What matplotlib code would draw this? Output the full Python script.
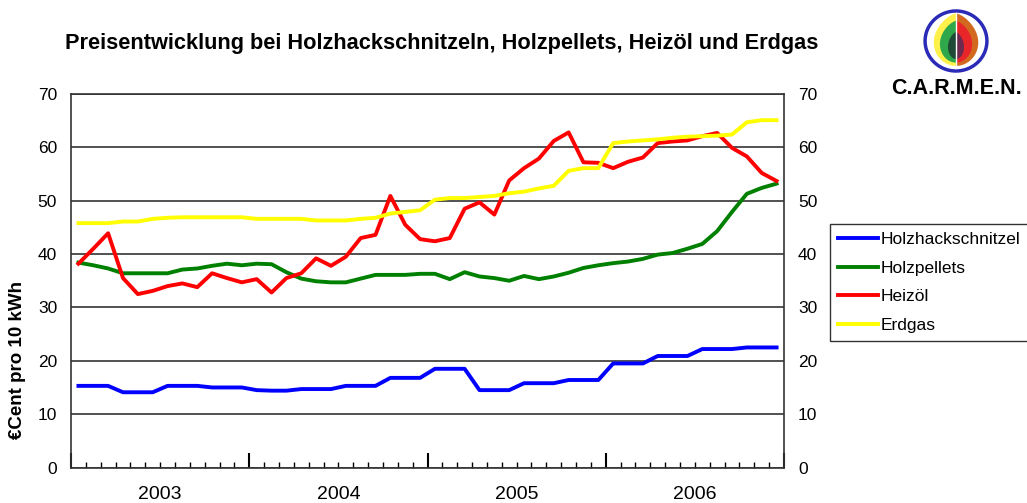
import numpy as np
import matplotlib
matplotlib.use('Agg')
from matplotlib import pyplot as plt

plt.rcParams['font.family'] = ['Liberation Sans', 'DejaVu Sans']

# monthly values Jan 2003 .. Dec 2006, €Cent pro 10 kWh
years = ['2003', '2004', '2005', '2006']
hackschnitzel = [15.3, 15.3, 15.3, 14.1, 14.1, 14.1, 15.3, 15.3, 15.3, 15.0, 15.0, 15.0,
                 14.5, 14.4, 14.4, 14.7, 14.7, 14.7, 15.3, 15.3, 15.3, 16.8, 16.8, 16.8,
                 18.5, 18.5, 18.5, 14.5, 14.5, 14.5, 15.8, 15.8, 15.8, 16.4, 16.4, 16.4,
                 19.5, 19.5, 19.5, 20.9, 20.9, 20.9, 22.2, 22.2, 22.2, 22.5, 22.5, 22.5]
pellets = [38.4, 37.9, 37.3, 36.4, 36.4, 36.4, 36.4, 37.1, 37.3, 37.8, 38.2, 37.9,
           38.2, 38.1, 36.6, 35.4, 34.9, 34.7, 34.7, 35.4, 36.1, 36.1, 36.1, 36.3,
           36.3, 35.3, 36.6, 35.8, 35.5, 35.0, 35.9, 35.3, 35.8, 36.5, 37.4, 37.9,
           38.3, 38.6, 39.1, 39.9, 40.2, 41.0, 41.9, 44.3, 47.9, 51.3, 52.4, 53.2]
heizoel = [38.2, 41.0, 43.9, 35.5, 32.5, 33.1, 34.0, 34.5, 33.8, 36.4, 35.5, 34.7,
           35.3, 32.8, 35.5, 36.4, 39.2, 37.8, 39.5, 43.0, 43.6, 50.9, 45.5, 42.8,
           42.4, 43.0, 48.5, 49.7, 47.4, 53.8, 56.1, 57.9, 61.2, 62.8, 57.2, 57.1,
           56.1, 57.3, 58.1, 60.8, 61.1, 61.3, 62.1, 62.7, 59.9, 58.3, 55.2, 53.7]
erdgas = [45.8, 45.8, 45.8, 46.1, 46.1, 46.6, 46.8, 46.9, 46.9, 46.9, 46.9, 46.9,
          46.6, 46.6, 46.6, 46.6, 46.3, 46.3, 46.3, 46.6, 46.8, 47.6, 47.9, 48.2,
          50.2, 50.5, 50.5, 50.7, 50.9, 51.4, 51.7, 52.3, 52.8, 55.6, 56.1, 56.1,
          60.8, 61.1, 61.3, 61.5, 61.8, 62.0, 62.1, 62.2, 62.4, 64.7, 65.1, 65.1]

months = np.arange(len(erdgas)) + 0.5

fig = plt.figure(figsize=(10.27, 5.03), dpi=100)
ax = fig.add_axes([71 / 1027, 1 - 467.5 / 503, 713 / 1027, 373.5 / 503])

ax.plot(months, hackschnitzel, color='#0000FF', lw=2.8, label='Holzhackschnitzel')
ax.plot(months, pellets, color='#008000', lw=2.8, label='Holzpellets')
ax.plot(months, heizoel, color='#FF0000', lw=2.8, label='Heizöl')
ax.plot(months, erdgas, color='#FFFF00', lw=2.8, label='Erdgas')

ax.set_xlim(0, 48)
ax.set_ylim(0, 70)
ax.set_yticks(range(0, 71, 10))
ax.yaxis.grid(True, color='#333333', lw=1.2)
ax.set_axisbelow(True)
ax.tick_params(axis='y', length=0, pad=10, labelsize=12.5)

ax.set_xticks(range(0, 49, 12))
ax.set_xticklabels([])
ax.set_xticks(range(0, 49), minor=True)
ax.tick_params(axis='x', which='major', direction='in', length=11, width=1.5)
ax.tick_params(axis='x', which='minor', direction='in', length=4, width=1)
for i, y in enumerate(years):
    ax.text(12 * i + 6, -0.05, y, transform=ax.get_xaxis_transform(),
            ha='center', va='top', fontsize=14)

for s in ax.spines.values():
    s.set_color('#333333')
    s.set_linewidth(1.2)

ax2 = ax.twinx()
ax2.set_ylim(0, 70)
ax2.set_yticks(range(0, 71, 10))
ax2.tick_params(axis='y', length=0, pad=10, labelsize=12.5)
for s in ax2.spines.values():
    s.set_visible(False)

fig.text(18 / 1027, 1 - 360 / 503, '€Cent pro 10 kWh', rotation=90,
         ha='center', va='center', fontsize=13.5, fontweight='bold')
fig.text(442 / 1027, 1 - 44 / 503,
         'Preisentwicklung bei Holzhackschnitzeln, Holzpellets, Heizöl und Erdgas',
         ha='center', va='center', fontsize=15.7, fontweight='bold')

leg = fig.legend(loc='upper left', bbox_to_anchor=(830 / 1027, 1 - 224 / 503),
                 fontsize=12.5, frameon=True, fancybox=False, edgecolor='black',
                 handlelength=2.3, handletextpad=0.15, labelspacing=0.78,
                 borderpad=0.45, borderaxespad=0)
leg.get_frame().set_linewidth(1.0)

# C.A.R.M.E.N. logo
lax = fig.add_axes([922 / 1027, 1 - 74 / 503, 68 / 1027, 66 / 503])
lax.set_xlim(-1.1, 1.1)
lax.set_ylim(-1.1, 1.1)
lax.axis('off')
t = np.linspace(0, 2 * np.pi, 200)
lax.fill(np.cos(t), np.sin(t), color='white', ec='#2B2BB8', lw=2.5)


def half(w, h, dy, side, col):
    tt = np.linspace(np.pi / 2, 3 * np.pi / 2, 100) if side == 'l' else np.linspace(-np.pi / 2, np.pi / 2, 100)
    xs = w * np.cos(tt)
    ys = h * np.sin(tt) + dy
    ys = np.where(ys > dy, dy + (ys - dy) * (1 + 0.25 * (1 - np.abs(xs) / w)), ys)
    lax.fill(np.r_[xs, 0], np.r_[ys, dy], color=col, lw=0)


half(0.72, 0.78, -0.05, 'l', '#FFF04A')
half(0.72, 0.78, -0.05, 'r', '#D2691E')
half(0.52, 0.62, -0.1, 'l', '#2EA84A')
half(0.52, 0.62, -0.1, 'r', '#E8262A')
half(0.26, 0.4, -0.2, 'l', '#1F4A36')
half(0.26, 0.4, -0.2, 'r', '#6E2A4E')
lax.plot([0, 0], [-0.9, 0.95], color='white', lw=1)
fig.text(956 / 1027, 1 - 88 / 503, 'C.A.R.M.E.N.', ha='center', va='center',
         fontsize=15.5, fontweight='bold')

fig.savefig('out.png', dpi=100)
